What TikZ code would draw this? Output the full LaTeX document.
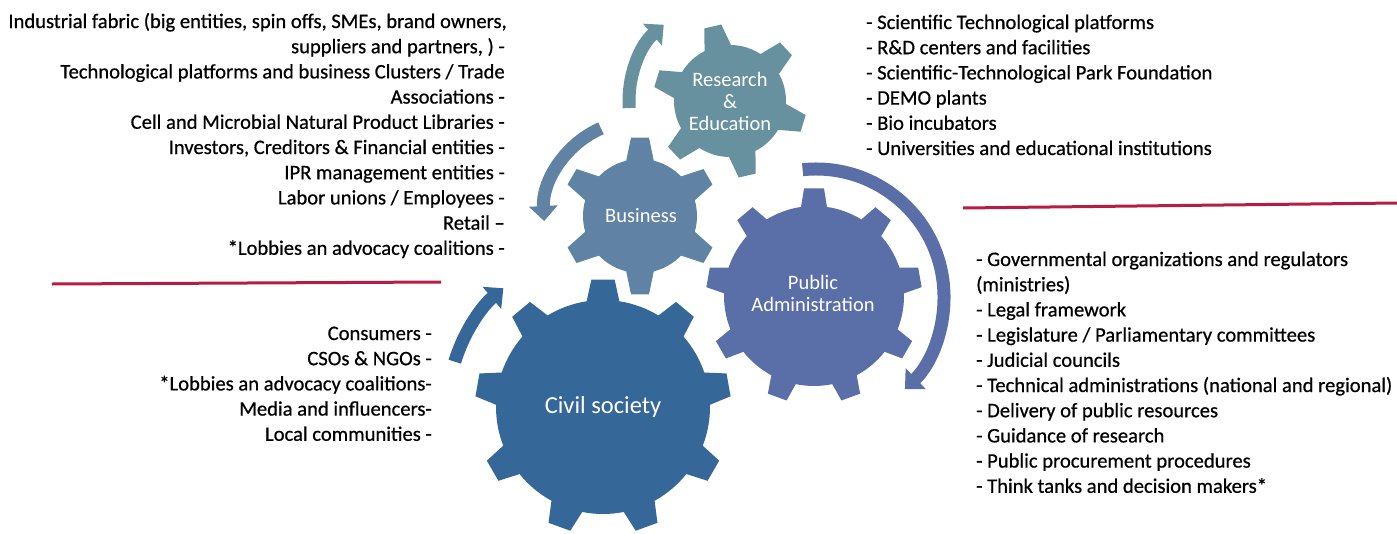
\documentclass[tikz,border=0pt]{standalone}
\usepackage{fontspec}
\setmainfont{Carlito}
\newfontfamily\lstfont[FakeBold=0.6]{Carlito}
\usetikzlibrary{arrows.meta}
\definecolor{resC}{RGB}{104,145,160}
\definecolor{busC}{RGB}{96,130,165}
\definecolor{pubC}{RGB}{90,110,168}
\definecolor{civC}{RGB}{53,103,152}
\definecolor{lineC}{RGB}{183,28,66}
% #1 centre, #2 teeth, #3 R, #4 r, #5 tip half-angle, #6 base half-angle, #7 first tooth angle, #8 colour
\newcommand{\gearshape}[8]{%
  \begin{scope}[shift={#1}]
    \fill[#8] ({#7-#6}:#4pt)
      \foreach \k in {1,...,#2}{
        -- ({#7+(\k-1)*360/#2-#5}:#3pt)
        -- ({#7+(\k-1)*360/#2+#5}:#3pt)
        -- ({#7+(\k-1)*360/#2+#6}:#4pt)
        arc[start angle={#7+(\k-1)*360/#2+#6}, end angle={#7+\k*360/#2-#6}, radius=#4pt]
      } -- cycle;
  \end{scope}}
\tikzset{
  lst/.style={font=\lstfont\fontsize{20.6}{25}\selectfont, inner sep=0pt, text=black},
  lstR/.style={lst, anchor=base east},
  lstL/.style={lst, anchor=base west},
  glabel/.style={text=white, font=\fontsize{20.5}{22}\selectfont, align=center, inner sep=0pt},
  cyc/.style={line width=13pt, -{Triangle[width=28pt,length=15pt]}},
  redline/.style={lineC, line width=3pt}
}
\begin{document}
\begin{tikzpicture}[x=1pt,y=1pt]
\useasboundingbox (0,0) rectangle (1397,-533);
% gear centres
\coordinate (rc) at (730,-101);
\coordinate (bc) at (640,-216);
\coordinate (pc) at (814,-296);
\coordinate (cc) at (603,-407);
% gears
\gearshape{(730,-101)}{6}{77}{56}{6.5}{14}{103}{resC}
\gearshape{(640,-216)}{6}{79}{57}{6.5}{14}{90}{busC}
\gearshape{(814,-296)}{9}{108}{90}{5.3}{8.3}{90}{pubC}
\gearshape{(603,-407)}{9}{128}{107}{5.2}{8.8}{90}{civC}
% cycle arrows
\draw[cyc, resC] (rc) ++(184:101pt) arc[start angle=184, end angle=131, radius=101pt];
\draw[cyc, busC] (bc) ++(114:96pt) arc[start angle=114, end angle=183, radius=96pt];
\draw[cyc, pubC] (816,-297) ++(96:128pt) arc[start angle=96, end angle=-46, radius=128pt];
\draw[cyc, civC] (cc) ++(163:155pt) arc[start angle=163, end angle=130, radius=155pt];
% gear labels
\node[glabel] (resL) at (730,-101) {Research\\\&\\Education};
\node[glabel] (busL) at (641,-216) {Business};
\node[glabel] (pubL) at (813,-293) {Public\\Administration};
\node[glabel, font=\fontsize{24.5}{26}\selectfont] (civL) at (603,-407) {Civil society};
% red lines
\coordinate (l1a) at (52,-284); \coordinate (l1b) at (441,-282);
\coordinate (l2a) at (963,-208); \coordinate (l2b) at (1397,-203);
\draw[redline] (l1a) -- (l1b);
\draw[redline] (l2a) -- (l2b);
% business list
\node[lstR] (b1) at (507,-28) {Industrial fabric (big entities, spin offs, SMEs, brand owners,};
\node[lstR] (b2) at (505,-53.2) {suppliers and partners, ) -};
\node[lstR] (b3) at (505,-78.4) {Technological platforms and business Clusters / Trade};
\node[lstR] (b4) at (505,-103.6) {Associations -};
\node[lstR] (b5) at (505,-128.8) {Cell and Microbial Natural Product Libraries -};
\node[lstR] (b6) at (505,-154) {Investors, Creditors \& Financial entities -};
\node[lstR] (b7) at (505,-179.2) {IPR management entities -};
\node[lstR] (b8) at (505,-204.4) {Labor unions / Employees -};
\node[lstR] (b9) at (505,-229.6) {Retail –};
\node[lstR] (b10) at (505,-254.8) {*Lobbies an advocacy coalitions -};
% civil list
\node[lstR] (c1) at (432,-340) {Consumers -};
\node[lstR] (c2) at (432,-365.2) {CSOs \& NGOs -};
\node[lstR] (c3) at (432,-390.4) {*Lobbies an advocacy coalitions-};
\node[lstR] (c4) at (432,-415.6) {Media and influencers-};
\node[lstR] (c5) at (432,-440.8) {Local communities -};
% research list
\node[lstL] (r1) at (866,-29) {- Scientific Technological platforms};
\node[lstL] (r2) at (866,-54.2) {- R\&D centers and facilities};
\node[lstL] (r3) at (866,-79.4) {- Scientific-Technological Park Foundation};
\node[lstL] (r4) at (866,-104.6) {- DEMO plants};
\node[lstL] (r5) at (866,-129.8) {- Bio incubators};
\node[lstL] (r6) at (866,-155) {- Universities and educational institutions};
% public list
\node[lstL] (p1) at (976,-266) {- Governmental organizations and regulators};
\node[lstL] (p2) at (976,-291.2) {(ministries)};
\node[lstL] (p3) at (976,-316.4) {- Legal framework};
\node[lstL] (p4) at (976,-341.6) {- Legislature / Parliamentary committees};
\node[lstL] (p5) at (976,-366.8) {- Judicial councils};
\node[lstL] (p6) at (976,-392) {- Technical administrations (national and regional)};
\node[lstL] (p7) at (976,-417.2) {- Delivery of public resources};
\node[lstL] (p8) at (976,-442.4) {- Guidance of research};
\node[lstL] (p9) at (976,-467.6) {- Public procurement procedures};
\node[lstL] (p10) at (976,-492.8) {- Think tanks and decision makers*};
\end{tikzpicture}
\end{document}
